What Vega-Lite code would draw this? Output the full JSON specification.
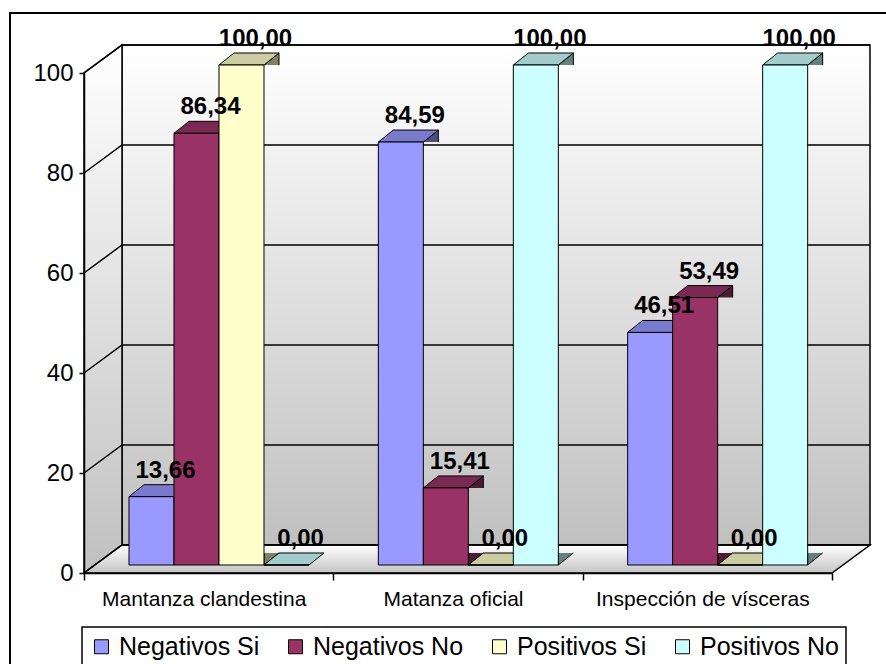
{
  "$schema": "https://vega.github.io/schema/vega-lite/v6.json",
  "width": 876,
  "height": 651,
  "autosize": {"type": "none"},
  "padding": {"left": 10, "top": 13, "right": 0, "bottom": 0},
  "background": "white",
  "config": {
    "font": "Liberation Sans",
    "view": {"stroke": "black", "strokeWidth": 2, "strokeDash": [876, 1527, 700]},
    "locale": {"number": {"decimal": ",", "thousands": ".", "grouping": [3], "currency": ["", " €"]}},
    "legend": {"strokeWidth": 1.5}
  },
  "datasets": {
    "barras": [
      {"grupo": "Mantanza clandestina", "serie": "Negativos Si", "valor": 13.66},
      {"grupo": "Mantanza clandestina", "serie": "Negativos No", "valor": 86.34},
      {"grupo": "Mantanza clandestina", "serie": "Positivos Si", "valor": 100},
      {"grupo": "Mantanza clandestina", "serie": "Positivos No", "valor": 0},
      {"grupo": "Matanza oficial", "serie": "Negativos Si", "valor": 84.59},
      {"grupo": "Matanza oficial", "serie": "Negativos No", "valor": 15.41},
      {"grupo": "Matanza oficial", "serie": "Positivos Si", "valor": 0},
      {"grupo": "Matanza oficial", "serie": "Positivos No", "valor": 100},
      {"grupo": "Inspección de vísceras", "serie": "Negativos Si", "valor": 46.51},
      {"grupo": "Inspección de vísceras", "serie": "Negativos No", "valor": 53.49},
      {"grupo": "Inspección de vísceras", "serie": "Positivos Si", "valor": 0},
      {"grupo": "Inspección de vísceras", "serie": "Positivos No", "valor": 100}
    ],
    "rejilla": [{"v": 0}, {"v": 20}, {"v": 40}, {"v": 60}, {"v": 80}, {"v": 100}]
  },
  "data": {"name": "barras"},
  "resolve": {"scale": {"fill": "independent", "stroke": "independent"}},
  "layer": [
    {
      "description": "back wall",
      "data": {"values": [{}]},
      "mark": {"type": "point", "shape": "M0.095,-0.07L1.965,-0.07L1.965,-1.32L0.095,-1.32Z", "size": 640000, "filled": true, "opacity": 1, "stroke": "black", "strokeWidth": 1.5,
        "fill": {"gradient": "linear", "x1": 0, "y1": 0, "x2": 0, "y2": 1, "stops": [{"offset": 0, "color": "#ffffff"}, {"offset": 1, "color": "#c0c0c0"}]}},
      "encoding": {
        "x": {"datum": "Mantanza clandestina", "type": "nominal", "bandPosition": 0, "scale": {"type": "band"}, "axis": {"title": null, "bandPosition": 0.5}},
        "y": {"datum": 0, "type": "quantitative", "axis": {"title": null}}
      }
    },
    {
      "description": "side wall",
      "data": {"values": [{}]},
      "mark": {"type": "point", "shape": "M0,0L0,-1.25L0.095,-1.32L0.095,-0.07Z", "size": 640000, "filled": true, "opacity": 1, "stroke": "black", "strokeWidth": 1.5,
        "fill": {"gradient": "linear", "x1": 0, "y1": 0, "x2": 0, "y2": 1, "stops": [{"offset": 0, "color": "#ffffff"}, {"offset": 1, "color": "#c0c0c0"}]}},
      "encoding": {
        "x": {"datum": "Mantanza clandestina", "type": "nominal", "bandPosition": 0, "scale": {"type": "band"}, "axis": {"title": null, "bandPosition": 0.5}},
        "y": {"datum": 0, "type": "quantitative", "axis": {"title": null}}
      }
    },
    {
      "description": "floor",
      "data": {"values": [{}]},
      "mark": {"type": "point", "shape": "M0,0L1.87,0L1.965,-0.07L0.095,-0.07Z", "size": 640000, "filled": true, "opacity": 1, "stroke": "black", "strokeWidth": 1.5,
        "fill": {"gradient": "linear", "x1": 0, "y1": 0, "x2": 0, "y2": 1, "stops": [{"offset": 0, "color": "#ffffff"}, {"offset": 1, "color": "#c4c4c4"}]}},
      "encoding": {
        "x": {"datum": "Mantanza clandestina", "type": "nominal", "bandPosition": 0, "scale": {"type": "band"}, "axis": {"title": null, "bandPosition": 0.5}},
        "y": {"datum": 0, "type": "quantitative", "axis": {"title": null}}
      }
    },
    {
      "description": "gridlines across side and back walls",
      "data": {"name": "rejilla"},
      "mark": {"type": "point", "shape": "M0,0L0.095,-0.07L1.965,-0.07", "size": 640000, "filled": false, "opacity": 1, "stroke": "black", "strokeWidth": 1.5},
      "encoding": {
        "x": {"datum": "Mantanza clandestina", "type": "nominal", "bandPosition": 0, "scale": {"type": "band"}, "axis": {"title": null, "bandPosition": 0.5}},
        "y": {"field": "v", "type": "quantitative", "axis": {"title": null}}
      }
    },
    {
      "description": "side faces, body",
      "transform": [{"filter": "datum.valor > 0"}],
      "mark": {"type": "rule", "strokeWidth": 15, "strokeCap": "butt", "yOffset": -8, "y2Offset": -20},
      "encoding": {
        "x": {"field": "grupo", "type": "nominal", "scale": {"type": "band"}, "axis": {"title": null, "bandPosition": 0.5}},
        "xOffset": {"field": "serie", "type": "nominal", "bandPosition": 1.16667, "scale": {"type": "band"}},
        "y": {"field": "valor", "type": "quantitative", "axis": {"title": null}},
        "y2": {"datum": 0},
        "stroke": {"field": "serie", "type": "nominal", "legend": null,
          "scale": {"domain": ["Negativos Si", "Negativos No", "Positivos Si", "Positivos No"], "range": ["#4D4D80", "#4D1A33", "#808066", "#668080"]}}
      }
    },
    {
      "description": "side faces, back edge",
      "transform": [{"filter": "datum.valor > 0"}],
      "mark": {"type": "rule", "strokeWidth": 1.2, "color": "black", "yOffset": -20, "y2Offset": -20},
      "encoding": {
        "x": {"field": "grupo", "type": "nominal", "scale": {"type": "band"}, "axis": {"title": null, "bandPosition": 0.5}},
        "xOffset": {"field": "serie", "type": "nominal", "bandPosition": 1.33333, "scale": {"type": "band"}},
        "y": {"field": "valor", "type": "quantitative", "axis": {"title": null}},
        "y2": {"datum": 0}
      }
    },
    {
      "description": "side faces, upper corner",
      "transform": [{"filter": "datum.valor > 0"}],
      "mark": {"type": "point", "shape": "M0.75,0L0.75,-0.24L0.45,0", "size": 10000, "filled": true, "opacity": 1, "stroke": "black", "strokeWidth": 1, "yOffset": -8},
      "encoding": {
        "x": {"field": "grupo", "type": "nominal", "scale": {"type": "band"}, "axis": {"title": null, "bandPosition": 0.5}},
        "xOffset": {"field": "serie", "type": "nominal", "scale": {"type": "band"}},
        "y": {"field": "valor", "type": "quantitative", "axis": {"title": null}},
        "fill": {"field": "serie", "type": "nominal", "legend": null,
          "scale": {"domain": ["Negativos Si", "Negativos No", "Positivos Si", "Positivos No"], "range": ["#4D4D80", "#4D1A33", "#808066", "#668080"]}}
      }
    },
    {
      "description": "side faces, lower corner",
      "transform": [{"filter": "datum.valor > 0"}],
      "mark": {"type": "point", "shape": "M0.45,-0.24L0.45,0L0.75,-0.24", "size": 10000, "filled": true, "opacity": 1, "stroke": "black", "strokeWidth": 1, "yOffset": -8},
      "encoding": {
        "x": {"field": "grupo", "type": "nominal", "scale": {"type": "band"}, "axis": {"title": null, "bandPosition": 0.5}},
        "xOffset": {"field": "serie", "type": "nominal", "scale": {"type": "band"}},
        "y": {"datum": 0, "type": "quantitative", "axis": {"title": null}},
        "fill": {"field": "serie", "type": "nominal", "legend": null,
          "scale": {"domain": ["Negativos Si", "Negativos No", "Positivos Si", "Positivos No"], "range": ["#4D4D80", "#4D1A33", "#808066", "#668080"]}}
      }
    },
    {
      "description": "top faces",
      "mark": {"type": "point", "shape": "M-0.45,0L0.45,0L0.75,-0.24L-0.15,-0.24Z", "size": 10000, "filled": true, "opacity": 1, "stroke": "black", "strokeWidth": 1, "yOffset": -8},
      "encoding": {
        "x": {"field": "grupo", "type": "nominal", "scale": {"type": "band"}, "axis": {"title": null, "bandPosition": 0.5}},
        "xOffset": {"field": "serie", "type": "nominal", "scale": {"type": "band"}},
        "y": {"field": "valor", "type": "quantitative", "axis": {"title": null}},
        "fill": {"field": "serie", "type": "nominal", "legend": null,
          "scale": {"domain": ["Negativos Si", "Negativos No", "Positivos Si", "Positivos No"], "range": ["#7A7ACC", "#7A2952", "#CCCCA3", "#A3CCCC"]}}
      }
    },
    {
      "description": "front faces",
      "mark": {"type": "bar", "stroke": "black", "strokeWidth": 1, "yOffset": -8, "y2Offset": -8},
      "encoding": {
        "x": {"field": "grupo", "type": "nominal",
          "scale": {"type": "band", "domain": ["Mantanza clandestina", "Matanza oficial", "Inspección de vísceras"], "range": [74, 822], "paddingInner": 0, "paddingOuter": 0},
          "axis": {"title": null, "orient": "bottom", "offset": -91, "zindex": 1, "bandPosition": 0.5, "tickBand": "extent", "labelAlign": "center", "labelOffset": -5, "labelFontSize": 21, "labelColor": "black", "tickColor": "black", "domainColor": "black", "tickSize": 7, "labelPadding": 19, "labelAngle": 0, "domainWidth": 1.5, "tickWidth": 1.5, "labelLimit": 300, "labelBound": false, "labelFlush": false, "grid": false}},
        "xOffset": {"field": "serie", "type": "nominal",
          "scale": {"type": "band", "domain": ["Negativos Si", "Negativos No", "Positivos Si", "Positivos No"], "paddingInner": 0, "paddingOuter": 0.77037, "align": 0.649}},
        "y": {"field": "valor", "type": "quantitative", "stack": null,
          "scale": {"domain": [0, 100], "range": [560, 60], "nice": false},
          "axis": {"title": null, "orient": "left", "offset": -74, "zindex": 1, "values": [0, 20, 40, 60, 80, 100], "labelFontSize": 24, "labelColor": "black", "tickColor": "black", "domainColor": "black", "tickSize": 5, "labelPadding": 6, "grid": false, "domainWidth": 1.5, "tickWidth": 1.5}},
        "y2": {"datum": 0},
        "color": {"field": "serie", "type": "nominal",
          "scale": {"domain": ["Negativos Si", "Negativos No", "Positivos Si", "Positivos No"], "range": ["#9999FF", "#993366", "#FFFFCC", "#CCFFFF"]},
          "legend": {"orient": "none", "legendX": 72, "legendY": 614, "direction": "horizontal", "title": null, "labelFontSize": 25, "labelColor": "black", "symbolType": "square", "symbolSize": 196, "symbolStrokeColor": "black", "symbolStrokeWidth": 1, "strokeColor": "black", "padding": 7, "columnPadding": 23, "labelOffset": 5, "fillColor": "white", "labelLimit": 300}}
      }
    },
    {
      "description": "value labels",
      "mark": {"type": "text", "fontSize": 24, "fontWeight": "bold", "color": "black", "yOffset": -27, "dx": 14, "baseline": "alphabetic", "align": "center"},
      "encoding": {
        "x": {"field": "grupo", "type": "nominal", "scale": {"type": "band"}, "axis": {"title": null, "bandPosition": 0.5}},
        "xOffset": {"field": "serie", "type": "nominal", "scale": {"type": "band"}},
        "y": {"field": "valor", "type": "quantitative", "axis": {"title": null}},
        "text": {"field": "valor", "type": "quantitative", "format": ".2f"}
      }
    }
  ]
}
